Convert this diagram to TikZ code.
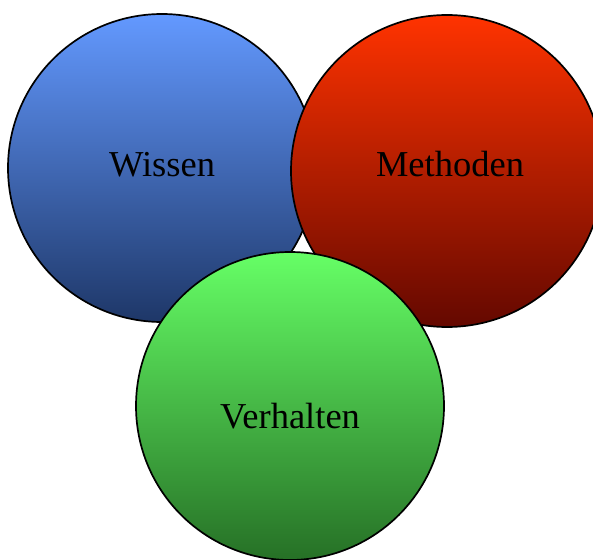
\documentclass[tikz,border=0pt]{standalone}
\usepackage{fontspec}
\setmainfont{Liberation Serif}
\definecolor{bluetop}{HTML}{6399FF}
\definecolor{bluebot}{HTML}{1E3768}
\definecolor{redtop}{HTML}{FF3300}
\definecolor{redbot}{HTML}{640800}
\definecolor{greentop}{HTML}{66FF66}
\definecolor{greenbot}{HTML}{267026}
\tikzset{
  bubble/.style={circle, draw=black, line width=1.7pt, inner sep=0pt},
  label/.style={font=\fontsize{36.5}{40}\selectfont, text=black, anchor=base},
}
\begin{document}
\begin{tikzpicture}[x=1pt,y=-1pt]
\useasboundingbox (0,0) rectangle (593,559);
\node[bubble, minimum size=308pt, top color=bluetop, bottom color=bluebot] (wissen) at (162,168) {};
\node[bubble, minimum size=312pt, top color=redtop, bottom color=redbot] (methoden) at (447,171) {};
\node[bubble, minimum size=308pt, top color=greentop, bottom color=greenbot] (verhalten) at (290,406) {};
\node[label] (tw) at (162,176) {Wissen};
\node[label] (tm) at (450,176) {Methoden};
\node[label] (tv) at (290,428) {Verhalten};
\end{tikzpicture}
\end{document}
